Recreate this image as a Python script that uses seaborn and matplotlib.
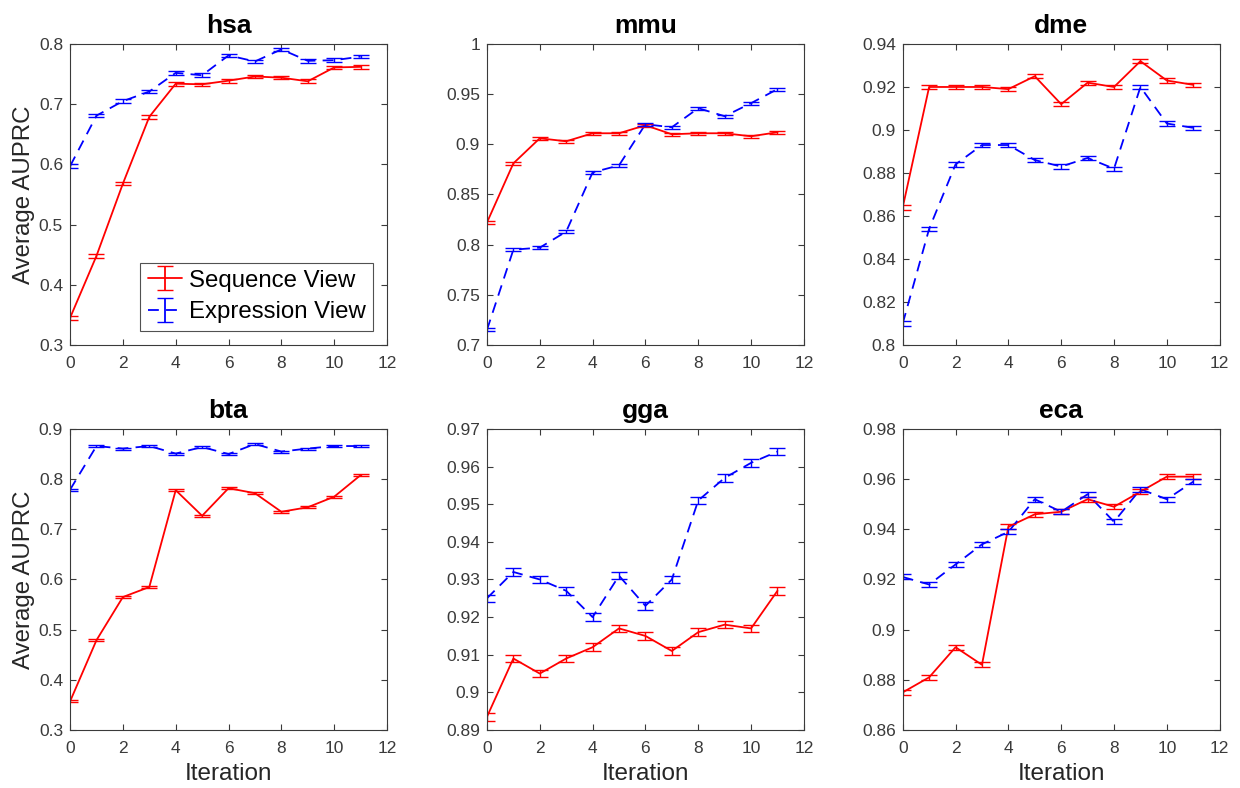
import numpy as np
import pandas as pd
import matplotlib
matplotlib.use("Agg")
import matplotlib.pyplot as plt
import seaborn as sns

iterations = list(range(12))
species = ["hsa", "mmu", "dme", "bta", "gga", "eca"]

hsa_seq = [0.345, 0.448, 0.568, 0.679, 0.734, 0.733, 0.739, 0.746, 0.744, 0.738, 0.761, 0.762]
hsa_expr = [0.597, 0.681, 0.705, 0.721, 0.752, 0.748, 0.781, 0.771, 0.791, 0.772, 0.773, 0.779]
hsa_err = 0.003

mmu_seq = [0.822, 0.881, 0.906, 0.903, 0.911, 0.911, 0.919, 0.910, 0.911, 0.911, 0.908, 0.912]
mmu_expr = [0.715, 0.795, 0.797, 0.813, 0.872, 0.879, 0.920, 0.917, 0.936, 0.928, 0.941, 0.955]
mmu_err = 0.0015

dme_seq = [0.864, 0.920, 0.920, 0.920, 0.919, 0.925, 0.912, 0.922, 0.920, 0.932, 0.923, 0.921]
dme_expr = [0.810, 0.854, 0.884, 0.893, 0.893, 0.886, 0.883, 0.887, 0.882, 0.920, 0.903, 0.901]
dme_err = 0.001

bta_seq = [0.357, 0.479, 0.565, 0.585, 0.778, 0.727, 0.782, 0.772, 0.735, 0.744, 0.765, 0.808]
bta_expr = [0.779, 0.866, 0.861, 0.866, 0.851, 0.864, 0.850, 0.870, 0.855, 0.861, 0.866, 0.866]
bta_err = 0.002

gga_seq = [0.8935, 0.909, 0.905, 0.909, 0.912, 0.917, 0.915, 0.911, 0.916, 0.918, 0.917, 0.927]
gga_expr = [0.925, 0.932, 0.930, 0.927, 0.920, 0.931, 0.923, 0.930, 0.951, 0.957, 0.961, 0.964]
gga_err = 0.001

eca_seq = [0.875, 0.881, 0.893, 0.886, 0.941, 0.946, 0.947, 0.952, 0.949, 0.955, 0.961, 0.961]
eca_expr = [0.921, 0.918, 0.926, 0.934, 0.939, 0.952, 0.947, 0.954, 0.943, 0.956, 0.952, 0.959]
eca_err = 0.001

y_limits = {
    "hsa": (0.3, 0.8, [0.3, 0.4, 0.5, 0.6, 0.7, 0.8], ["0.3", "0.4", "0.5", "0.6", "0.7", "0.8"]),
    "mmu": (0.7, 1.0, [0.7, 0.75, 0.8, 0.85, 0.9, 0.95, 1.0], ["0.7", "0.75", "0.8", "0.85", "0.9", "0.95", "1"]),
    "dme": (0.8, 0.94, [0.8, 0.82, 0.84, 0.86, 0.88, 0.9, 0.92, 0.94], ["0.8", "0.82", "0.84", "0.86", "0.88", "0.9", "0.92", "0.94"]),
    "bta": (0.3, 0.9, [0.3, 0.4, 0.5, 0.6, 0.7, 0.8, 0.9], ["0.3", "0.4", "0.5", "0.6", "0.7", "0.8", "0.9"]),
    "gga": (0.89, 0.97, [0.89, 0.9, 0.91, 0.92, 0.93, 0.94, 0.95, 0.96, 0.97], ["0.89", "0.9", "0.91", "0.92", "0.93", "0.94", "0.95", "0.96", "0.97"]),
    "eca": (0.86, 0.98, [0.86, 0.88, 0.9, 0.92, 0.94, 0.96, 0.98], ["0.86", "0.88", "0.9", "0.92", "0.94", "0.96", "0.98"]),
}
x_ticks = [0, 2, 4, 6, 8, 10, 12]

data = {
    "hsa": (hsa_seq, hsa_expr, hsa_err),
    "mmu": (mmu_seq, mmu_expr, mmu_err),
    "dme": (dme_seq, dme_expr, dme_err),
    "bta": (bta_seq, bta_expr, bta_err),
    "gga": (gga_seq, gga_expr, gga_err),
    "eca": (eca_seq, eca_expr, eca_err),
}

sns.set_theme(style="ticks")
plt.rcParams["font.family"] = ["Liberation Sans", "DejaVu Sans"]

fig = plt.figure(figsize=(12.4, 7.88), dpi=100)
lefts = [0.0565, 0.3927, 0.728]
bottoms = [0.5622, 0.0736]
w, h = 0.2556, 0.382

TICK_COL = "#3a3a3a"
LABEL_COL = "#262626"
RED = "#ff0000"
BLUE = "#0000ff"
DASH = (6, 4)

for i, sp in enumerate(species):
    r, c = divmod(i, 3)
    ax = fig.add_axes([lefts[c], bottoms[r], w, h])
    seq, expr, err = data[sp]
    df = pd.DataFrame({
        "Iteration": iterations * 2,
        "AUPRC": list(seq) + list(expr),
        "View": ["Sequence View"] * 12 + ["Expression View"] * 12,
    })
    sns.lineplot(data=df, x="Iteration", y="AUPRC", hue="View", style="View",
                 palette={"Sequence View": RED, "Expression View": BLUE},
                 dashes={"Sequence View": "", "Expression View": DASH},
                 linewidth=1.3, legend=False, ax=ax, errorbar=None)
    ax.errorbar(iterations, seq, yerr=err, fmt="none", ecolor=RED, elinewidth=1.0,
                capsize=6, capthick=1.0)
    ax.errorbar(iterations, expr, yerr=err, fmt="none", ecolor=BLUE, elinewidth=1.0,
                capsize=6, capthick=1.0)

    lo, hi, yt, ytl = y_limits[sp]
    ax.set_ylim(lo, hi)
    ax.set_yticks(yt)
    ax.set_yticklabels(ytl)
    ax.set_xlim(0, 12)
    ax.set_xticks(x_ticks)
    ax.set_xticklabels([str(t) for t in x_ticks])
    ax.tick_params(direction="in", length=4, width=0.8, colors=TICK_COL,
                   labelsize=12.5, top=True, right=True, pad=5)
    ax.tick_params(axis="x", pad=8)
    for s in ax.spines.values():
        s.set_visible(True)
        s.set_color(TICK_COL)
        s.set_linewidth(0.8)
    ax.set_title(sp, fontsize=19, fontweight="bold", pad=8, color="black")
    if c == 0:
        ax.set_ylabel("Average AUPRC", fontsize=17.3, color=LABEL_COL, labelpad=3)
    else:
        ax.set_ylabel("")
    if r == 1:
        ax.set_xlabel("Iteration", fontsize=17.5, color=LABEL_COL, labelpad=5)
    else:
        ax.set_xlabel("")

    if sp == "hsa":
        h1 = ax.errorbar([np.nan], [np.nan], yerr=[1.0], fmt="-", color=RED,
                         linewidth=1.3, capsize=6)
        h2 = ax.errorbar([np.nan], [np.nan], yerr=[1.0], fmt="--", color=BLUE,
                         linewidth=1.3, capsize=6, dashes=DASH)
        leg = ax.legend([h1, h2], ["Sequence View", "Expression View"],
                        loc="lower right", fontsize=17.3, frameon=True,
                        fancybox=False, edgecolor="#262626", handlelength=1.45,
                        borderpad=0.3, labelspacing=0.4, handletextpad=0.25,
                        borderaxespad=0.6)
        leg.get_frame().set_linewidth(0.8)
        for t in leg.get_texts():
            t.set_color("black")

fig.savefig("out.png", dpi=100, facecolor="white")
